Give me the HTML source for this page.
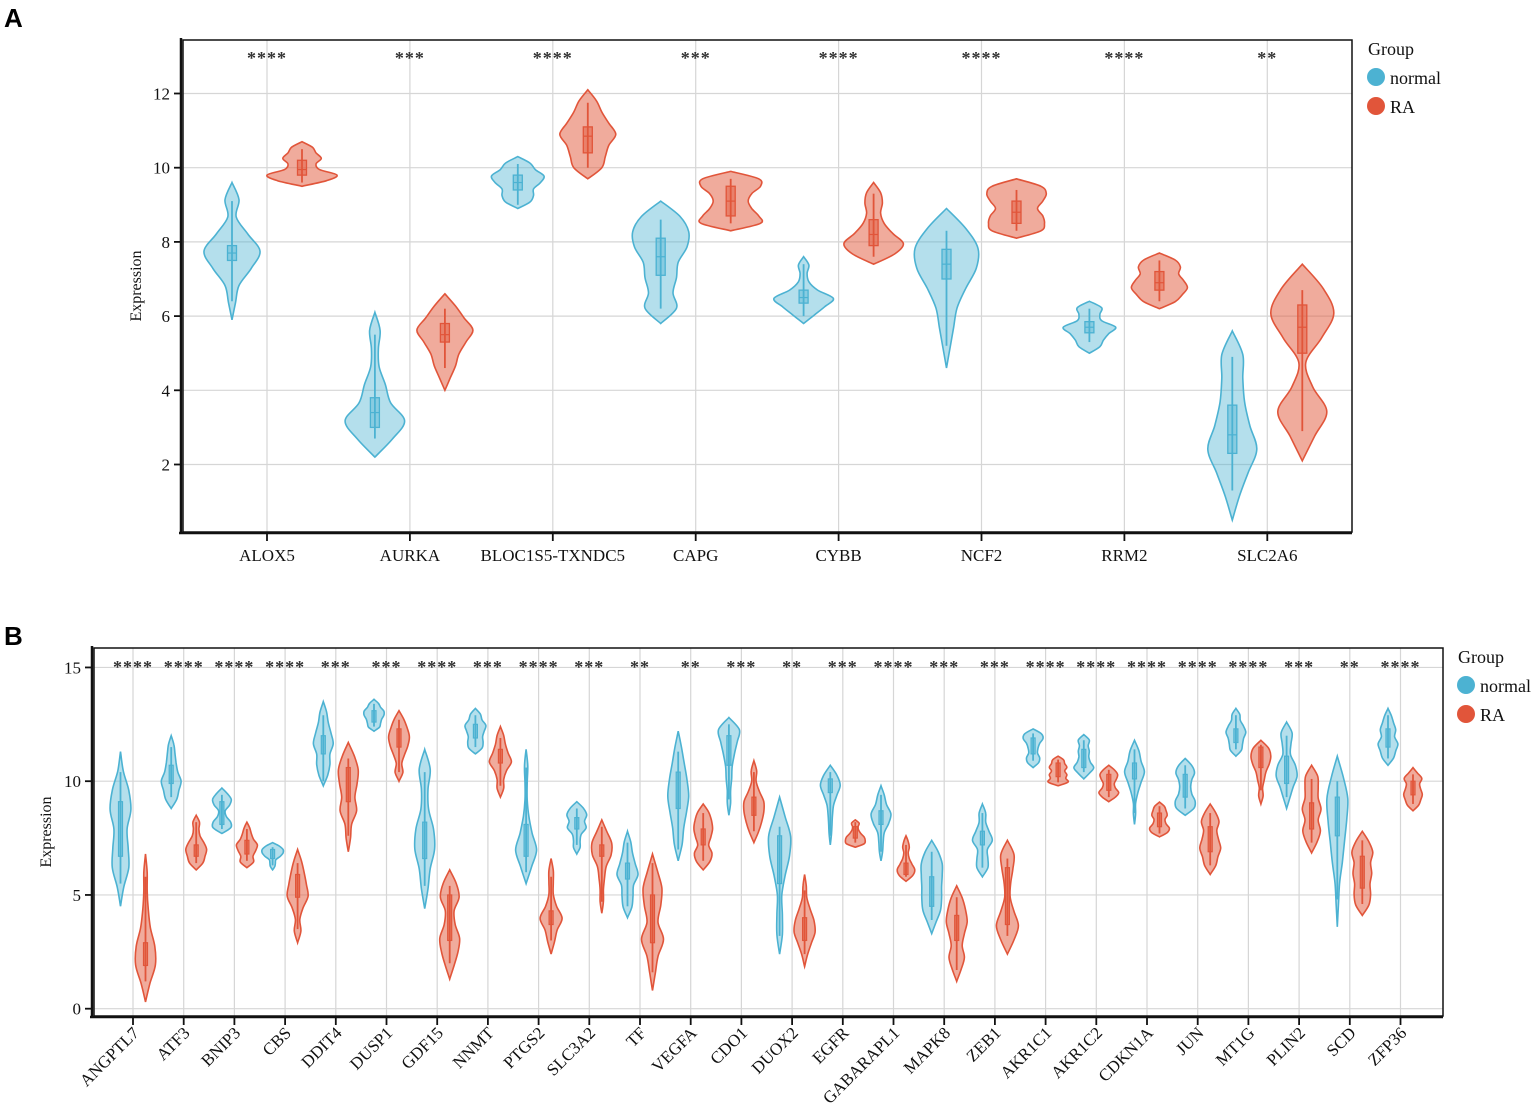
<!DOCTYPE html>
<html><head><meta charset="utf-8"><style>
html,body{margin:0;padding:0;background:#fff;}
svg{display:block;font-family:"Liberation Serif",serif;}
.panel-label{font-family:"Liberation Sans",sans-serif;font-weight:bold;font-size:26px;}
</style></head><body>
<svg id="fig" width="1535" height="1112" viewBox="0 0 1535 1112" xmlns="http://www.w3.org/2000/svg">
<text x="4" y="27" class="panel-label">A</text>
<text x="4" y="645" class="panel-label">B</text>
<g id="pa"></g>
<g id="pb"></g>
</svg>
<script>
// ---------- Panel A data ----------
const A_genes = ["ALOX5","AURKA","BLOC1S5-TXNDC5","CAPG","CYBB","NCF2","RRM2","SLC2A6"];
const A_stars = ["****","***","****","***","****","****","****","**"];
const A_yTicks = [2,4,6,8,10,12];
const A_nRange = [[5.9,9.6],[2.2,6.1],[8.9,10.3],[5.8,9.1],[5.8,7.6],[4.6,8.9],[5.0,6.4],[0.5,5.6]];
const A_nDens = [[0,.1,.2,.55,.8,.45,.12,.2,0],[0,.5,.85,.45,.3,.12,.1,.15,0],[0,.35,.45,.45,.65,.75,.5,.35,0],[0,.45,.35,.45,.5,.75,.8,.55,0],[0,.3,.6,.85,.4,.15,.1,.15,0],[0,.1,.2,.3,.55,.85,.9,.55,0],[0,.3,.4,.55,.75,.35,.3,.35,0],[0,.2,.45,.7,.5,.35,.3,.3,0]];
const A_nBox = [[6.4,7.5,7.7,7.9,9.1],[2.7,3.0,3.4,3.8,5.5],[9.0,9.4,9.6,9.8,10.1],[6.2,7.1,7.6,8.1,8.6],[6.0,6.35,6.5,6.7,7.4],[5.2,7.0,7.4,7.8,8.3],[5.3,5.55,5.7,5.85,6.2],[1.3,2.3,2.8,3.6,4.9]];
const A_rRange = [[9.5,10.7],[4.0,6.6],[9.7,12.1],[8.3,9.9],[7.4,9.6],[8.1,9.7],[6.2,7.7],[2.1,7.4]];
const A_rDens = [[0,.7,1,.5,.4,.55,.4,.3,0],[0,.15,.3,.4,.6,.8,.55,.3,0],[0,.4,.5,.6,.8,.6,.4,.25,0],[0,.85,.8,.6,.5,.6,.85,.8,0],[0,.6,.85,.55,.3,.2,.25,.2,0],[0,.7,.8,.75,.6,.75,.85,.7,0],[0,.45,.65,.8,.7,.55,.6,.45,0],[0,.35,.7,.3,.1,.55,.9,.6,0]];
const A_rBox = [[9.6,9.8,9.95,10.2,10.5],[4.6,5.3,5.5,5.8,6.2],[10.0,10.4,10.85,11.1,11.75],[8.5,8.7,9.1,9.5,9.7],[7.6,7.9,8.2,8.6,9.3],[8.3,8.5,8.8,9.1,9.4],[6.4,6.7,6.9,7.2,7.5],[2.9,5.0,5.7,6.3,6.7]];

// ---------- Panel B data ----------
const B_genes = ["ANGPTL7","ATF3","BNIP3","CBS","DDIT4","DUSP1","GDF15","NNMT","PTGS2","SLC3A2","TF","VEGFA","CDO1","DUOX2","EGFR","GABARAPL1","MAPK8","ZEB1","AKR1C1","AKR1C2","CDKN1A","JUN","MT1G","PLIN2","SCD","ZFP36"];
const B_stars = ["****","****","****","****","***","***","****","***","****","***","**","**","***","**","***","****","***","***","****","****","****","****","****","***","**","****"];
const B_yTicks = [0,5,10,15];
const B_nRange = [[4.5,11.3],[8.8,12],[7.7,9.7],[6.1,7.3],[9.8,13.5],[12.2,13.6],[4.4,11.4],[11.2,13.2],[5.5,11.4],[6.8,9.1],[4,7.8],[6.5,12.2],[8.5,12.8],[2.4,9.3],[7.2,10.7],[6.5,9.8],[3.3,7.4],[5.8,9],[10.6,12.3],[10.1,12.05],[8.1,11.8],[8.5,11],[11.1,13.2],[8.8,12.6],[3.6,11.1],[10.7,13.2]];
const B_nDens = [[0,.3,.75,.7,.6,.95,.75,.25,0],[0,.5,.7,.9,.6,.45,.35,.25,0],[0,.8,.8,.4,.3,.7,.85,.5,0],[0,.2,.25,.3,.7,.95,.95,.6,0],[0,.4,.6,.6,.9,.7,.45,.3,0],[0,.5,.6,.7,.9,.9,.6,.4,0],[0,.3,.5,.9,.8,.35,.3,.5,0],[0,.6,.7,.65,.8,.95,.6,.45,0],[0,.5,.95,.55,.25,.1,.1,.15,0],[0,.3,.3,.4,.85,.7,.9,.6,0],[0,.4,.5,.55,.95,.7,.45,.3,0],[0,.35,.5,.75,.95,.8,.55,.3,0],[0,.15,.15,.25,.3,.5,.75,.95,0],[0,.25,.25,.2,.5,.9,1,.5,0],[0,.1,.15,.2,.3,.6,.9,.6,0],[0,.15,.2,.3,.7,.9,.5,.3,0],[0,.4,.8,.9,.9,.95,.95,.6,0],[0,.5,.5,.45,.9,.6,.3,.3,0],[0,.5,.6,.4,.45,.6,.9,.75,0],[0,.5,.9,.6,.45,.5,.4,.5,0],[0,.1,.1,.3,.6,.9,.6,.4,0],[0,.8,.9,.6,.5,.6,.85,.6,0],[0,.5,.6,.7,.9,.7,.4,.35,0],[0,.3,.6,.95,.8,.35,.4,.5,0],[0,.1,.2,.45,.65,.85,.95,.55,0],[0,.5,.7,.9,.6,.7,.5,.3,0]];
const B_nBox = [[5.5,6.7,8,9.1,10.4],[9.3,9.9,10.2,10.7,11.5],[7.9,8.1,8.6,9.1,9.4],[6.3,6.6,6.8,7.0,7.1],[10,11.2,11.6,12,12.9],[12.4,12.6,12.85,13.1,13.4],[5.4,6.6,7.4,8.2,10.4],[11.5,11.9,12.2,12.5,12.9],[6,6.7,7.4,8.1,10.6],[7.2,7.9,8.15,8.4,8.8],[4.5,5.7,6,6.4,7.3],[7,8.8,9.6,10.4,11.3],[9.2,10.7,11.4,12,12.5],[3.2,5.5,6.5,7.6,8],[7.6,9.5,9.8,10.1,10.4],[6.9,8.1,8.4,8.7,9.4],[3.9,4.5,5.2,5.8,6.9],[6.2,7.2,7.5,7.8,8.6],[10.9,11.2,11.55,11.9,12.1],[10.4,10.6,11,11.4,11.8],[8.6,10.1,10.45,10.8,11.4],[8.8,9.3,9.8,10.3,10.7],[11.4,11.7,12,12.3,12.9],[9.3,9.9,10.5,11.1,12],[4.8,7.6,8.4,9.3,10],[11,11.5,11.9,12.3,12.9]];
const B_rRange = [[0.3,6.8],[6.1,8.5],[6.2,8.2],[2.9,7],[6.9,11.7],[10,13.1],[1.3,6.1],[9.3,12.4],[2.4,6.6],[4.2,8.3],[0.8,6.8],[6.1,9],[7.3,10.9],[1.85,5.9],[7.1,8.3],[5.6,7.6],[1.2,5.4],[2.4,7.4],[9.8,11.1],[9.1,10.7],[7.55,9.08],[5.9,9],[9,11.8],[6.85,10.7],[4.1,7.8],[8.7,10.6]];
const B_rDens = [[0,.4,.9,.85,.45,.25,.15,.15,0],[0,.6,.8,.95,.7,.35,.25,.3,0],[0,.6,.55,.8,.95,.6,.4,.25,0],[0,.3,.2,.5,.95,.8,.6,.35,0],[0,.2,.3,.75,.6,.8,.9,.55,0],[0,.35,.25,.5,.8,.95,.75,.45,0],[0,.4,.75,.9,.5,.4,.85,.6,0],[0,.3,.3,.55,1,.7,.45,.3,0],[0,.3,.55,1,.5,.2,.2,.2,0],[0,.15,.15,.25,.4,.85,.9,.45,0],[0,.25,.5,1,.5,.75,.85,.45,0],[0,.6,.8,.5,.7,.85,.75,.5,0],[0,.4,.7,.9,.9,.5,.2,.25,0],[0,.25,.6,.95,.85,.5,.2,.15,0],[0,.8,.9,.8,.5,.3,.25,.35,0],[0,.6,.8,.55,.3,.2,.3,.2,0],[0,.4,.7,.5,.7,.95,.8,.5,0],[0,.6,1,.6,.25,.3,.5,.6,0],[0,.9,.7,.8,.6,.8,.6,.5,0],[0,.6,.9,.6,.5,.7,.8,.5,0],[0,.7,.9,.6,.5,.7,.6,.45,0],[0,.5,.7,.95,.75,.6,.8,.5,0],[0,.2,.15,.3,.45,.75,.9,.7,0],[0,.5,.8,.6,.85,.6,.6,.55,0],[0,.6,.75,.7,.85,.75,.95,.6,0],[0,.5,.7,.85,.7,.6,.8,.4,0]];
const B_rBox = [[1.2,1.9,2.4,2.9,5.8],[6.4,6.7,7.0,7.2,8.2],[6.5,6.8,7.1,7.4,7.9],[3.5,4.9,5.4,5.9,6.4],[7.6,9.1,9.9,10.6,11],[10.4,11.5,11.9,12.3,12.7],[2,3,4,5,5.4],[9.8,10.8,11.1,11.4,11.9],[3,3.7,4,4.3,5.8],[4.7,6.7,6.95,7.2,8],[1.6,2.9,4,5,6.4],[6.5,7.2,7.5,7.9,8.6],[7.8,8.5,8.9,9.3,10.4],[2.4,3,3.5,4,5.2],[7.3,7.5,7.7,8,8.2],[5.8,5.9,6.15,6.4,7.2],[1.7,3,3.5,4.1,4.9],[3.2,3.7,4.9,6.2,6.6],[9.95,10.2,10.5,10.8,10.95],[9.3,9.6,9.95,10.3,10.5],[7.7,8,8.3,8.6,8.9],[6.3,6.9,7.4,8,8.6],[9.6,10.6,11,11.5,11.6],[7.3,7.9,8.5,9.05,10.1],[4.6,5.3,6,6.7,7.4],[9,9.4,9.7,10,10.3]];

const NS="http://www.w3.org/2000/svg";
const BLUE="#4cb2d2", RED="#e1553a";
const BLUEF="rgba(77,178,210,0.42)", REDF="rgba(226,87,58,0.5)";
function mk(tag, attrs, parent){const e=document.createElementNS(NS,tag);for(const k in attrs)e.setAttribute(k,attrs[k]);parent.appendChild(e);return e;}

function smoothSide(pts){
  let d="";
  for(let i=0;i<pts.length-1;i++){
    const p0=pts[Math.max(i-1,0)],p1=pts[i],p2=pts[i+1],p3=pts[Math.min(i+2,pts.length-1)];
    const c1=[p1[0]+(p2[0]-p0[0])/6,p1[1]+(p2[1]-p0[1])/6];
    const c2=[p2[0]-(p3[0]-p1[0])/6,p2[1]-(p3[1]-p1[1])/6];
    d+=` C${c1[0].toFixed(1)},${c1[1].toFixed(1)} ${c2[0].toFixed(1)},${c2[1].toFixed(1)} ${p2[0].toFixed(1)},${p2[1].toFixed(1)}`;
  }
  return d;
}
function violinPath(cx, range, dens, yScale, wScale){
  const n=dens.length, right=[], left=[];
  for(let i=0;i<n;i++){
    const v=range[0]+(range[1]-range[0])*i/(n-1);
    right.push([cx+dens[i]*wScale, yScale(v)]);
  }
  for(let i=n-1;i>=0;i--){left.push([2*cx-right[i][0], right[i][1]]);}
  return `M${right[0][0].toFixed(1)},${right[0][1].toFixed(1)}`+smoothSide(right)+smoothSide(left)+"Z";
}

function drawPanel(cfg){
  const g=document.getElementById(cfg.id);
  const y=v=>cfg.y0-(v-cfg.v0)*cfg.ppu;
  const cx=i=>cfg.c0+cfg.step*i;
  cfg.yTicks.forEach(t=>{
    const l=mk("line",{x1:cfg.L,x2:cfg.R,y1:y(t),y2:y(t),stroke:"#d6d6d6","stroke-width":1.2},g);
    
    
  });
  cfg.genes.forEach((gn,i)=>{
    const l=mk("line",{x1:cx(i),x2:cx(i),y1:cfg.T,y2:cfg.B,stroke:"#d6d6d6","stroke-width":1.2},g);
    
    
  });
  const fr=mk("rect",{x:cfg.L,y:cfg.T,width:cfg.R-cfg.L,height:cfg.B-cfg.T,fill:"none",stroke:"#111","stroke-width":1.5},g);
  
  
  const ya=mk("line",{x1:cfg.L-2,x2:cfg.L-2,y1:cfg.T-2,y2:cfg.B+2,stroke:"#111","stroke-width":2.5},g);
  
  
  const xa=mk("line",{x1:cfg.L-4,x2:cfg.R,y1:cfg.B+1,y2:cfg.B+1,stroke:"#111","stroke-width":2.5},g);
  
  
  cfg.yTicks.forEach(t=>{
    const tk=mk("line",{x1:cfg.L-9,x2:cfg.L-2,y1:y(t),y2:y(t),stroke:"#111","stroke-width":1.8},g);
    
    
    const tx=mk("text",{x:cfg.L-13,y:y(t)+6,"text-anchor":"end","font-size":cfg.fs+1,fill:"#111"},g);
    tx.textContent=t;
    
    
  });
  const yt=mk("text",{transform:`translate(${cfg.ytX},${cfg.ytY}) rotate(-90)`,"text-anchor":"middle","font-size":cfg.fs,fill:"#111"},g);
  yt.textContent="Expression";
  
  
  cfg.genes.forEach((gn,i)=>{
    const tk=mk("line",{x1:cx(i),x2:cx(i),y1:cfg.B+1,y2:cfg.B+9,stroke:"#111","stroke-width":1.8},g);
    
    
    let tx;
    if(cfg.rot){
      tx=mk("text",{transform:`translate(${cfg.rotX(cx(i))},${cfg.B+18}) rotate(-45)`,"text-anchor":"end","font-size":cfg.fs+1,fill:"#111"},g);
    } else {
      tx=mk("text",{x:cx(i),y:cfg.B+29,"text-anchor":"middle","font-size":cfg.fs+1,fill:"#111"},g);
    }
    tx.textContent=gn;
    
    
    const st=mk("text",{x:cx(i),y:cfg.starY,"text-anchor":"middle","font-size":cfg.fs+2,"font-weight":"bold",fill:"#333","letter-spacing":"1"},g);
    st.textContent=cfg.stars[i];
    
    
    [["normal",-cfg.off,cfg.nRange,cfg.nDens,cfg.nBox,BLUE,BLUEF],["ra",cfg.off,cfg.rRange,cfg.rDens,cfg.rBox,RED,REDF]].forEach(s=>{
      const x=cx(i)+s[1];
      const p=mk("path",{d:violinPath(x,s[2][i],s[3][i],y,cfg.wScale),fill:s[6],stroke:s[5],"stroke-width":1.6},g);
      
      
      const b=s[4][i];
      const w=mk("line",{x1:x,x2:x,y1:y(b[0]),y2:y(b[4]),stroke:s[5],"stroke-width":1.8},g);
      
      
      const r=mk("rect",{x:x-cfg.bw/2,y:y(b[3]),width:cfg.bw,height:y(b[1])-y(b[3]),fill:s[6],stroke:s[5],"stroke-width":cfg.bStroke},g);
      
      
      if(cfg.median){
        const m=mk("line",{x1:x-cfg.bw/2,x2:x+cfg.bw/2,y1:y(b[2]),y2:y(b[2]),stroke:s[5],"stroke-width":1.2},g);
        
        
      }
    });
  });
  const lg=mk("g",{},g);
  
  
  const lt=mk("text",{x:cfg.lgX-8,y:cfg.lgY,"font-size":cfg.fs+2,fill:"#111"},lg);
  lt.textContent="Group";
  
  
  [["normal",BLUE],["RA",RED]].forEach((e,k)=>{
    const c=mk("circle",{cx:cfg.lgX,cy:cfg.lgY+22+k*29,r:9,fill:e[1]},lg);
    
    
    const t=mk("text",{x:cfg.lgX+14,y:cfg.lgY+29+k*29,"font-size":cfg.fs+2,fill:"#111"},lg);
    t.textContent=e[0];
    
    
  });
}

drawPanel({id:"pa",genes:A_genes,stars:A_stars,yTicks:A_yTicks,nRange:A_nRange,nDens:A_nDens,nBox:A_nBox,rRange:A_rRange,rDens:A_rDens,rBox:A_rBox,
  L:183,R:1352,T:40,B:532,y0:167.7,v0:10,ppu:37.1,c0:267,step:142.9,off:35,wScale:35,bw:9,bStroke:1.3,median:true,
  fs:16,ytX:141,ytY:286,starY:64,rot:false,lgX:1376,lgY:55});
drawPanel({id:"pb",genes:B_genes,stars:B_stars,yTicks:B_yTicks,nRange:B_nRange,nDens:B_nDens,nBox:B_nBox,rRange:B_rRange,rDens:B_rDens,rBox:B_rBox,
  L:94,R:1443,T:648,B:1016,y0:1008.7,v0:0,ppu:22.75,c0:133,step:50.7,off:12.5,wScale:11,bw:4,bStroke:1.2,median:false,
  fs:16,ytX:51,ytY:832,starY:673,rot:true,rotX:x=>x+7,lgX:1466,lgY:663});
</script>
</body></html>
